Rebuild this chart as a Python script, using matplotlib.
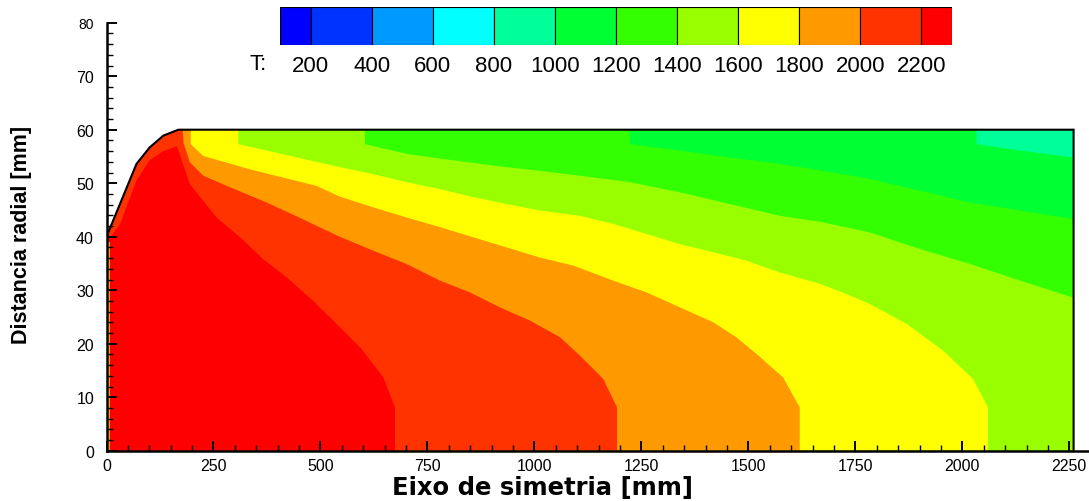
import matplotlib
matplotlib.use("Agg")
import matplotlib.pyplot as plt
from matplotlib.ticker import MultipleLocator

plt.rcParams['font.family'] = ['Liberation Sans', 'DejaVu Sans']

# temperature levels of the legend and the colour of each band
levels = [200, 400, 600, 800, 1000, 1200, 1400, 1600, 1800, 2000, 2200]
band_colors = ['#0000FF', '#0033FF', '#0099FF', '#00FFFF', '#00FF99', '#00FF33',
               '#33FF00', '#99FF00', '#FFFF00', '#FF9900', '#FF3300', '#FF0000']

# nozzle wall (mm): inlet at x=0, flat wall at r=60, outlet at x=2260
wall_x = [0, 70, 101, 133, 168, 2260, 2260]
wall_y = [40, 53.6, 56.7, 58.9, 60, 60, 0]

# isotherms, from the wall down to the axis / outlet
iso_x = {
    1000: [2033, 2033, 2135, 2260],
    1200: [1223, 1223, 1340, 1457, 1574, 1690, 1784, 1901, 2018, 2135, 2260],
    1400: [604, 604, 701, 779, 857, 935, 1013, 1106, 1223, 1340, 1457, 1574, 1667,
           1784, 1901, 2018, 2135, 2260],
    1600: [308, 308, 545, 623, 701, 779, 857, 935, 1013, 1106, 1184, 1262, 1340, 1418,
           1496, 1574, 1667, 1729, 1784, 1870, 1955, 2025, 2060, 2060],
    1800: [197, 197, 226, 335, 491, 545, 623, 701, 779, 857, 935, 1013, 1091, 1184,
           1262, 1340, 1418, 1472, 1519, 1581, 1620, 1620],
    2000: [178, 180, 195, 226, 296, 374, 450, 545, 623, 701, 779, 849, 919, 990, 1060,
           1106, 1161, 1193, 1193],
    2200: [0, 10, 31.5, 70, 101, 133, 165, 195, 226, 257, 312, 366, 421, 483, 545, 596,
           647, 674, 674],
}
iso_y = {
    1000: [60, 57.3, 56.1, 54.8],
    1200: [60, 57.3, 56.1, 54.8, 53.6, 52.1, 50.8, 48.6, 46.4, 44.9, 43.3],
    1400: [60, 57.3, 55.5, 54.6, 53.8, 53.0, 52.3, 51.4, 50.2, 48.3, 46.1, 43.9, 42.8,
           40.8, 37.7, 34.9, 31.8, 28.6],
    1600: [60, 57.3, 53.0, 51.7, 50.2, 48.9, 47.4, 46.1, 44.9, 43.9, 42.4, 40.5, 38.6,
           37.1, 35.5, 33.3, 31.2, 29.3, 27.4, 23.7, 18.7, 13.4, 8.1, 0],
    1800: [60, 57.3, 55.1, 52.6, 49.5, 47.5, 45.5, 43.6, 41.8, 39.9, 38.0, 36.1, 34.6,
           31.8, 29.6, 26.8, 24.0, 21.2, 18.1, 13.7, 8.1, 0],
    2000: [60, 57.5, 53.9, 51.4, 49.0, 46.4, 43.6, 40.0, 37.4, 34.9, 31.8, 29.6, 26.8,
           24.3, 21.2, 17.8, 13.4, 8.1, 0],
    2200: [39.2, 40.0, 42.3, 50.5, 54.3, 56.0, 56.9, 49.8, 46.7, 43.6, 39.9, 35.8, 32.4,
           28.0, 23.1, 19.0, 13.7, 8.1, 0],
}


def hot_region(xs, ys):
    # polygon of T > level: isotherm, then axis, then back up the wall
    px, py = list(xs), list(ys)
    if py[-1] > 0:
        px.append(px[-1])
        py.append(0)
    px.append(0)
    py.append(0)
    for wx, wy in zip(wall_x, wall_y):
        if wx < xs[0]:
            px.append(wx)
            py.append(wy)
    return px, py


fig = plt.figure(figsize=(10.89, 5.02), dpi=100)
ax = fig.add_axes([106.5 / 1089, 50.3 / 502, 982.5 / 1089, 428 / 502])

# coldest band fills the domain, hotter regions painted on top
ax.fill(wall_x + [0], wall_y + [0], color=band_colors[4], lw=0)
for lev in sorted(iso_x):
    px, py = hot_region(iso_x[lev], iso_y[lev])
    ax.fill(px, py, color=band_colors[levels.index(lev) + 1], lw=0)

# thin cooler strip at the inlet
ax.fill_between([0, 5], 0, 39, color='#FFFF00', lw=0)
ax.fill_between([5, 9], 0, 39, color='#FF9900', lw=0)

ax.plot(wall_x, wall_y, color='k', lw=1.5, solid_joinstyle='miter')

ax.set_xlim(0, 2296)
ax.set_ylim(0, 80)
for s in ['top', 'right']:
    ax.spines[s].set_visible(False)
for s in ['left', 'bottom']:
    ax.spines[s].set_linewidth(1.8)

ax.set_xticks(range(0, 2251, 250))
ax.set_yticks(range(0, 81, 10))
ax.xaxis.set_minor_locator(MultipleLocator(50))
ax.yaxis.set_minor_locator(MultipleLocator(2))
ax.tick_params(which='major', direction='in', length=7, width=1.4, labelsize=11.5)
ax.tick_params(which='minor', direction='in', length=4, width=1)
ax.tick_params(axis='y', pad=9)
ax.tick_params(axis='x', pad=5)
ax.get_yticklabels()[-1].set_fontsize(10)

fig.text(543 / 1089, 1 - 488 / 502, 'Eixo de simetria [mm]', ha='center', va='center',
         fontsize=17.5, fontweight='bold', family=['DejaVu Sans'])
fig.text(22 / 1089, 1 - 235 / 502, 'Distancia radial [mm]', ha='center', va='center',
         rotation=90, fontsize=15.5, fontweight='bold')

# legend bar on top
leg = fig.add_axes([280 / 1089, 1 - 46 / 502, 672 / 1089, 38 / 502])
edges = [100] + levels + [2300]
leg.bar(edges[:-1], 1, width=[b - a for a, b in zip(edges[:-1], edges[1:])],
        align='edge', color=band_colors, edgecolor='k', lw=0.8)
leg.set_xlim(100, 2300)
leg.set_ylim(0, 1)
leg.set_yticks([])
leg.set_xticks(levels)
leg.set_xticklabels([str(v) for v in levels])
leg.tick_params(axis='x', length=0, pad=7, labelsize=16)
for s in leg.spines.values():
    s.set_visible(False)
fig.text(258 / 1089, 1 - 65 / 502, 'T:', ha='center', va='center', fontsize=16)

fig.savefig('out.png', dpi=100)
